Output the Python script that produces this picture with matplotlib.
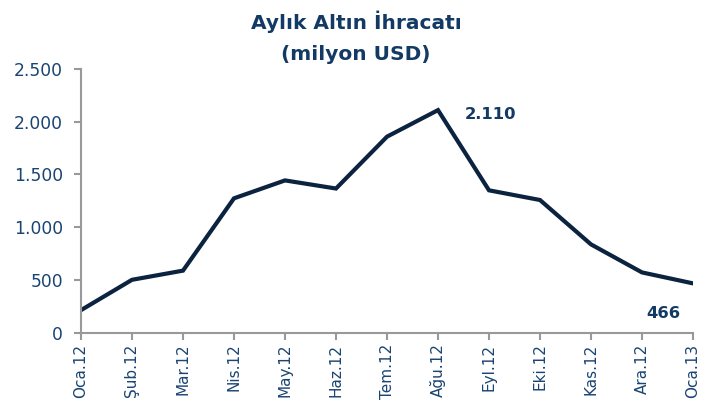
import matplotlib
matplotlib.use("Agg")
import matplotlib.pyplot as plt
from matplotlib.ticker import FuncFormatter

months = ["Oca.12", "Şub.12", "Mar.12", "Nis.12", "May.12", "Haz.12", "Tem.12",
          "Ağu.12", "Eyl.12", "Eki.12", "Kas.12", "Ara.12", "Oca.13"]
values = [212, 500, 587, 1273, 1443, 1366, 1858, 2110, 1349, 1257, 836, 570, 466]
yticks = [0, 500, 1000, 1500, 2000, 2500]

line_color = "#0c2340"
text_color = "#1b4472"
bold_color = "#123a64"
axis_color = "#999999"

plt.rcParams['font.family'] = ['DejaVu Sans']

fig = plt.figure(figsize=(7.13, 4.08), dpi=100)
ax = fig.add_axes([81/713, (408-332.5)/408, (693-81)/713, (332.5-69)/408])

x = list(range(len(months)))
ax.plot(x, values, color=line_color, lw=3, solid_joinstyle='miter')

ax.set_xlim(0, len(months)-1)
ax.set_ylim(0, 2500)
ax.set_yticks(yticks)
ax.yaxis.set_major_formatter(FuncFormatter(lambda v, p: f"{int(v):,}".replace(",", ".")))
ax.set_xticks(x)
ax.set_xticklabels(months, rotation=90, color=text_color, fontsize=11)
for lab in ax.get_yticklabels():
    lab.set_color(text_color)
    lab.set_fontsize(12.3)

for s in ["top", "right"]:
    ax.spines[s].set_visible(False)
for s in ["left", "bottom"]:
    ax.spines[s].set_color(axis_color)
    ax.spines[s].set_linewidth(1.5)
ax.tick_params(axis='both', colors=axis_color, width=1.5, length=5, labelcolor=text_color)
ax.tick_params(axis='y', pad=8)
ax.tick_params(axis='x', pad=3)

peak = values.index(max(values))
ax.annotate(f"{values[peak]:,}".replace(",", "."), xy=(peak, values[peak]),
            xytext=(19.5, -3.4), textcoords='offset points', fontsize=11.8,
            fontweight='bold', color=bold_color, ha='left', va='center')
ax.annotate(f"{values[-1]}", xy=(len(values)-1, values[-1]),
            xytext=(-21.6, -21.6), textcoords='offset points', fontsize=11.8,
            fontweight='bold', color=bold_color, ha='center', va='center')

fig.text(356/713, 1-29/408, "Aylık Altın İhracatı", ha='center', va='baseline',
         fontsize=14.5, fontweight='bold', color=bold_color)
fig.text(356/713, 1-60/408, "(milyon USD)", ha='center', va='baseline',
         fontsize=14.5, fontweight='bold', color=bold_color)

fig.savefig("out.png", dpi=100)
